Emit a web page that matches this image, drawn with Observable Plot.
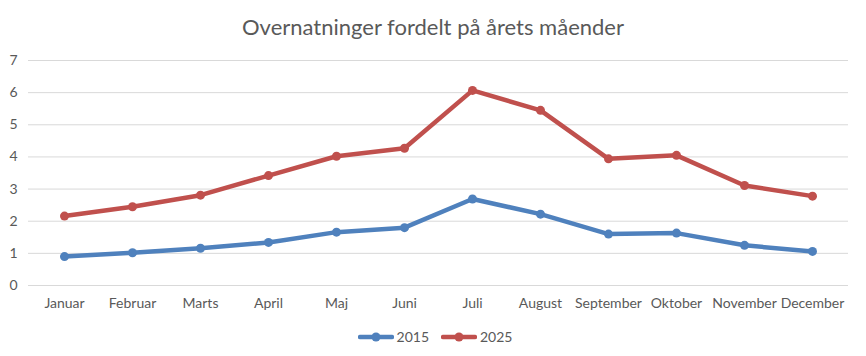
<!DOCTYPE html>
<html>
<head>
<meta charset="utf-8">
<script src="https://cdn.jsdelivr.net/npm/d3@7"></script>
<script src="https://cdn.jsdelivr.net/npm/@observablehq/plot@0.6"></script>
<style>
  body { margin: 0; background: #fff; font-family: Lato, "Open Sans", sans-serif; }
  #wrap { width: 866px; height: 356px; position: relative; }
  #title { height: 50px; line-height: 54px; text-align: center; font-size: 22px; color: #595959; }
  #legend { display: flex; justify-content: center; align-items: center; gap: 12px; font-size: 14px; color: #595959; margin-top: 13px; margin-left: 4px; }
  .item { display: flex; align-items: center; gap: 3px; }
</style>
</head>
<body>
<div id="wrap">
  <div id="title">Overnatninger fordelt på årets måender</div>
  <div id="chart"></div>
  <div id="legend"></div>
</div>
<script>
const months = ["Januar","Februar","Marts","April","Maj","Juni","Juli","August","September","Oktober","November","December"];
const series = ["2015","2025"];
const values2015 = [0.9, 1.02, 1.16, 1.34, 1.66, 1.8, 2.69, 2.22, 1.6, 1.63, 1.25, 1.06];
const values2025 = [2.16, 2.45, 2.81, 3.42, 4.02, 4.27, 6.07, 5.45, 3.94, 4.05, 3.11, 2.78];
const yTicks = [0,1,2,3,4,5,6,7];
const colors = ["#4F81BD", "#C0504D"];

const data = [];
months.forEach((m, i) => {
  data.push({month: m, year: series[0], value: values2015[i]});
  data.push({month: m, year: series[1], value: values2025[i]});
});

const chart = Plot.plot({
  width: 866,
  height: 265,
  marginTop: 10,
  marginBottom: 30,
  marginLeft: 28,
  marginRight: 18,
  style: { fontFamily: "Lato, 'Open Sans', sans-serif", fontSize: "14px", color: "#595959", background: "#fff" },
  x: { type: "point", domain: months, padding: 0.5, label: null },
  y: { domain: [0, 7], ticks: yTicks, label: null },
  color: { domain: series, range: colors },
  marks: [
    Plot.ruleY(yTicks, { stroke: "#d9d9d9", strokeWidth: 1 }),
    Plot.axisY(yTicks, { tickSize: 0, tickPadding: 11, label: null, fill: "#595959" }),
    Plot.axisX({ tickSize: 0, tickPadding: 13, label: null, fill: "#595959" }),
    Plot.line(data, { x: "month", y: "value", z: "year", stroke: "year", strokeWidth: 4.5, strokeLinejoin: "round", strokeLinecap: "round" }),
    Plot.dot(data, { x: "month", y: "value", fill: "year", r: 4.5, stroke: "none" })
  ]
});
document.getElementById("chart").appendChild(chart);

const legend = document.getElementById("legend");
series.forEach((s, i) => {
  const item = document.createElement("div");
  item.className = "item";
  item.innerHTML = `<svg width="36" height="10"><line x1="2" y1="5" x2="34" y2="5" stroke="${colors[i]}" stroke-width="4.5" stroke-linecap="round"/><circle cx="18" cy="5" r="4.5" fill="${colors[i]}"/></svg><span>${s}</span>`;
  legend.appendChild(item);
});
</script>
</body>
</html>
